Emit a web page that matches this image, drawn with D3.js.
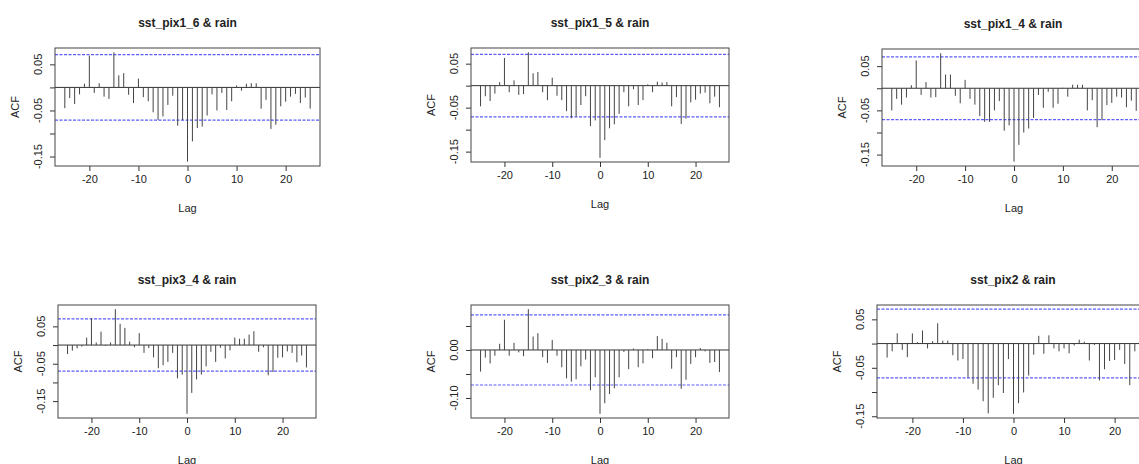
<!DOCTYPE html>
<html>
<head>
<meta charset="utf-8">
<script src="https://cdn.jsdelivr.net/npm/d3@7"></script>
<style>
  body { margin: 0; background: #fff; }
  svg { display: block; }
  text { font-family: "Liberation Sans", Arial, sans-serif; fill: #222; }
</style>
</head>
<body>
<svg width="1139" height="464"></svg>
<script>
// cross-correlation of each sst pixel with rain, lags -25..25
const lags = d3.range(-25, 26);

const titles = ['sst_pix1_6 & rain', 'sst_pix1_5 & rain', 'sst_pix1_4 & rain',
                'sst_pix3_4 & rain', 'sst_pix2_3 & rain', 'sst_pix2 & rain'];

const pix1_6 = [-0.045, -0.023, -0.036, -0.015, 0.008, 0.069, -0.012, 0.009, -0.020, -0.025,
  0.076, 0.026, 0.031, -0.016, -0.034, 0.019, -0.021, -0.030, -0.054, -0.071,
  -0.063, -0.038, -0.018, -0.083, -0.071, -0.161, -0.117, -0.088, -0.085, -0.061,
  -0.015, -0.050, -0.012, -0.049, -0.030, 0.004, -0.007, 0.008, 0.009, 0.009,
  -0.046, -0.027, -0.090, -0.081, -0.041, -0.031, -0.020, -0.014, -0.034, -0.022, -0.046];

const pix1_5 = [-0.047, -0.024, -0.035, -0.018, 0.008, 0.063, -0.015, 0.012, -0.021, -0.019,
  0.076, 0.028, 0.031, -0.015, -0.033, 0.018, -0.023, -0.033, -0.058, -0.074,
  -0.070, -0.044, -0.024, -0.092, -0.079, -0.164, -0.124, -0.097, -0.088, -0.064,
  -0.015, -0.047, -0.008, -0.044, -0.033, 0.003, -0.015, 0.009, 0.007, 0.008,
  -0.047, -0.026, -0.087, -0.075, -0.038, -0.032, -0.018, -0.016, -0.040, -0.025, -0.049];

const pix1_4 = [-0.050, -0.024, -0.037, -0.021, 0.007, 0.063, -0.015, 0.014, -0.021, -0.020,
  0.079, 0.031, 0.031, -0.017, -0.034, 0.019, -0.024, -0.037, -0.063, -0.076,
  -0.076, -0.050, -0.029, -0.096, -0.084, -0.166, -0.128, -0.100, -0.091, -0.067,
  -0.015, -0.044, -0.008, -0.044, -0.035, 0.001, -0.019, 0.008, 0.008, 0.008,
  -0.050, -0.027, -0.088, -0.072, -0.038, -0.033, -0.019, -0.021, -0.043, -0.028, -0.051];

const pix3_4 = [-0.024, -0.015, -0.009, -0.004, 0.020, 0.072, 0.007, 0.036, -0.002, 0.007,
  0.096, 0.057, 0.046, 0.009, -0.006, 0.032, -0.021, -0.008, -0.033, -0.062,
  -0.054, -0.045, -0.021, -0.089, -0.079, -0.184, -0.128, -0.092, -0.079, -0.057,
  -0.018, -0.045, -0.007, -0.036, -0.014, 0.020, 0.017, 0.017, 0.028, 0.037,
  -0.018, -0.006, -0.081, -0.072, -0.034, -0.033, -0.017, -0.021, -0.046, -0.028, -0.060];

const pix2_3 = [-0.045, -0.016, -0.028, -0.012, 0.013, 0.063, -0.012, 0.015, -0.005, -0.013,
  0.085, 0.028, 0.035, -0.015, -0.027, 0.021, -0.012, -0.036, -0.059, -0.066,
  -0.061, -0.034, -0.020, -0.084, -0.057, -0.133, -0.111, -0.092, -0.080, -0.057,
  -0.004, -0.040, 0.003, -0.036, -0.028, 0.002, -0.017, 0.029, 0.023, 0.015,
  -0.039, -0.015, -0.081, -0.062, -0.029, -0.015, 0.004, -0.003, -0.027, -0.025, -0.046];

const pix2 = [-0.029, -0.016, 0.021, -0.013, -0.028, 0.021, 0.003, 0.027, -0.010, 0.005,
  0.042, 0.006, 0.006, -0.024, -0.035, -0.032, -0.070, -0.083, -0.095, -0.119,
  -0.144, -0.112, -0.086, -0.102, -0.032, -0.145, -0.123, -0.101, -0.066, -0.023,
  0.016, -0.021, 0.017, -0.010, -0.016, -0.010, -0.020, -0.004, 0.008, 0.004,
  -0.035, -0.003, -0.076, -0.053, -0.036, -0.034, -0.013, -0.042, -0.086, -0.016, -0.020];

// approximate 95% bounds of each panel
const ciLimits = [0.071, 0.071, 0.071, 0.070, 0.073, 0.071];

const xTicks = [-20, -10, 0, 10, 20];
const yTicksA = [-0.15, -0.10, -0.05, 0, 0.05];
const yLabelsA = ['-0.15', '', '-0.05', '', '0.05'];
const yTicksB = [-0.10, -0.05, 0, 0.05];
const yLabelsB = ['-0.10', '', '0.00', ''];

const series = [pix1_6, pix1_5, pix1_4, pix3_4, pix2_3, pix2];
const yTickSets = [yTicksA, yTicksA, yTicksA, yTicksA, yTicksB, yTicksA];
const yLabelSets = [yLabelsA, yLabelsA, yLabelsA, yLabelsA, yLabelsB, yLabelsA];

// plot boxes in pixels: left, right, top, bottom
const boxes = [
  [55, 320, 48, 166],
  [471, 729, 48, 162],
  [882, 1146, 49, 166],
  [58, 316, 305, 418],
  [471, 729, 305, 418],
  [877, 1150, 305, 418]
];

const svg = d3.select('svg');
const ink = '#333';

series.forEach((vals, i) => {
  const [x0, x1, y0, y1] = boxes[i];
  const ci = ciLimits[i];
  const data = lags.map((lag, k) => ({lag, v: vals[k]}));

  const x = d3.scaleLinear().domain([-27, 27]).range([x0, x1]);
  const lo = Math.min(-ci, d3.min(vals));
  const hi = Math.max(ci, d3.max(vals));
  const pad = (hi - lo) * 0.04;
  const y = d3.scaleLinear().domain([lo - pad, hi + pad]).range([y1, y0]);

  const g = svg.append('g');

  // title
  g.append('text')
    .attr('x', (x0 + x1) / 2 > 1010 ? 1013 : (x0 + x1) / 2)
    .attr('y', y0 - 25)
    .attr('text-anchor', 'middle')
    .attr('dominant-baseline', 'central')
    .style('font-size', '12px')
    .style('font-weight', 'bold')
    .text(titles[i]);

  // axes
  const xa = g.append('g')
    .attr('transform', `translate(0,${y1})`)
    .call(d3.axisBottom(x).tickValues(xTicks).tickSize(5).tickFormat(d => String(d)));
  xa.select('.domain').remove();
  xa.selectAll('line').attr('stroke', ink);
  xa.selectAll('text').attr('y', 9).style('font-size', '11px').attr('fill', '#222');

  const ya = g.append('g')
    .attr('transform', `translate(${x0},0)`)
    .call(d3.axisLeft(y).tickValues(yTickSets[i]).tickSize(5).tickFormat(''));
  ya.select('.domain').remove();
  ya.selectAll('line').attr('stroke', ink);

  g.selectAll('text.ylab')
    .data(yTickSets[i].map((t, k) => ({t, label: yLabelSets[i][k]})))
    .join('text')
    .attr('class', 'ylab')
    .attr('transform', d => `translate(${x0 - 17},${y(d.t)}) rotate(-90)`)
    .attr('text-anchor', 'middle')
    .attr('dominant-baseline', 'central')
    .style('font-size', '11px')
    .text(d => d.label);

  g.append('text')
    .attr('transform', `translate(${x0 - 40},${(y0 + y1) / 2}) rotate(-90)`)
    .attr('text-anchor', 'middle')
    .attr('dominant-baseline', 'central')
    .style('font-size', '11px')
    .text('ACF');

  g.append('text')
    .attr('x', (x0 + x1) / 2)
    .attr('y', y1 + 42)
    .attr('text-anchor', 'middle')
    .attr('dominant-baseline', 'central')
    .style('font-size', '11px')
    .text('Lag');

  // zero line
  g.append('line')
    .attr('x1', x0).attr('x2', x1)
    .attr('y1', y(0)).attr('y2', y(0))
    .attr('stroke', ink);

  // confidence bounds
  g.selectAll('line.ci')
    .data([ci, -ci])
    .join('line')
    .attr('class', 'ci')
    .attr('x1', x0).attr('x2', x1)
    .attr('y1', d => y(d)).attr('y2', d => y(d))
    .attr('stroke', '#5c5cff')
    .attr('stroke-width', 1.2)
    .attr('stroke-dasharray', '3,1.5');

  // correlation bars
  g.selectAll('line.bar')
    .data(data)
    .join('line')
    .attr('class', 'bar')
    .attr('x1', d => x(d.lag)).attr('x2', d => x(d.lag))
    .attr('y1', y(0)).attr('y2', d => y(d.v))
    .attr('stroke', '#444');

  // frame
  g.append('rect')
    .attr('x', x0).attr('y', y0)
    .attr('width', x1 - x0).attr('height', y1 - y0)
    .attr('fill', 'none')
    .attr('stroke', '#444');
});
</script>
</body>
</html>
